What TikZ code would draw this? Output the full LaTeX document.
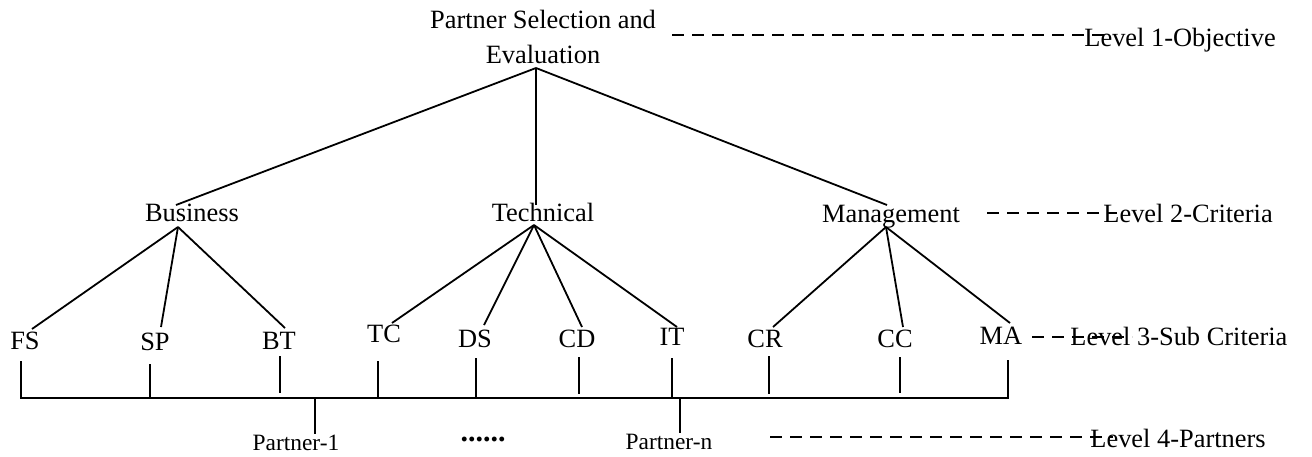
\documentclass[tikz,border=0pt]{standalone}
\usepackage{fontspec}
\setmainfont{Liberation Serif}
\begin{document}
\begin{tikzpicture}[x=0.5pt,y=-0.5pt,
  lbl/.style={inner sep=0pt,anchor=base,font=\fontsize{13.2}{15}\selectfont},
  small/.style={inner sep=0pt,anchor=base,font=\fontsize{11.7}{13}\selectfont},
  lvl/.style={inner sep=0pt,anchor=base west,font=\fontsize{13.2}{15}\selectfont},
  edge/.style={line width=0.9pt},
  guide/.style={line width=1pt,dash pattern=on 6pt off 4pt}]
\useasboundingbox (0,0) rectangle (1312,456);

% guide lines (drawn first, text sits on top)
\coordinate (g1s) at (672,35);  \coordinate (g1e) at (1112,35);
\coordinate (g2s) at (987,213); \coordinate (g2e) at (1117,213);
\coordinate (g3s) at (1032,337);\coordinate (g3e) at (1132,337);
\coordinate (g4s) at (770,437); \coordinate (g4e) at (1113,437);
\draw[guide] (g1s) -- (g1e);
\draw[guide] (g2s) -- (g2e);
\draw[guide] (g3s) -- (g3e);
\draw[guide] (g4s) -- (g4e);

% level 1 objective
\node[lbl] (obj1) at (543,28) {Partner Selection and};
\node[lbl] (obj2) at (543,63) {Evaluation};
\coordinate (apex) at (536,68);

% level 2 criteria
\node[lbl] (bus) at (192,221) {Business};
\node[lbl] (tec) at (543,221) {Technical};
\node[lbl] (man) at (891,222) {Management};
\coordinate (busT) at (176,205); \coordinate (busB) at (178,227);
\coordinate (tecT) at (536,205); \coordinate (tecB) at (534,225);
\coordinate (manT) at (887,205); \coordinate (manB) at (886,227);
\draw[edge] (apex) -- (busT);
\draw[edge] (apex) -- (tecT);
\draw[edge] (apex) -- (manT);

% level 3 sub criteria
\node[lbl] (fs) at (25,349)  {FS};
\node[lbl] (sp) at (155,350) {SP};
\node[lbl] (bt) at (279,349) {BT};
\node[lbl] (tc) at (384,342) {TC};
\node[lbl] (ds) at (475,347) {DS};
\node[lbl] (cd) at (577,347) {CD};
\node[lbl] (it) at (672,345) {IT};
\node[lbl] (cr) at (765,347) {CR};
\node[lbl] (cc) at (895,347) {CC};
\node[lbl] (ma) at (1001,344){MA};
\coordinate (fsT) at (32,329);  \coordinate (spT) at (161,327);
\coordinate (btT) at (285,328); \coordinate (tcT) at (392,323);
\coordinate (dsT) at (484,325); \coordinate (cdT) at (582,327);
\coordinate (itT) at (677,327); \coordinate (crT) at (773,327);
\coordinate (ccT) at (903,327); \coordinate (maT) at (1010,323);
\foreach \s in {fs,sp,bt} \draw[edge] (busB) -- (\s T);
\foreach \s in {tc,ds,cd,it} \draw[edge] (tecB) -- (\s T);
\foreach \s in {cr,cc,ma} \draw[edge] (manB) -- (\s T);

% level 4 partners: common bar and ticks
\coordinate (barL) at (21,398); \coordinate (barR) at (1008,398);
\draw[edge] (21,361) -- (barL) -- (barR) -- (1008,360);
\coordinate (fsB) at (21,361);   \coordinate (spB) at (150,364);
\coordinate (btB) at (280,356);  \coordinate (tcB) at (378,361);
\coordinate (dsB) at (476,358);  \coordinate (cdB) at (579,357);
\coordinate (itB) at (672,358);  \coordinate (crB) at (769,356);
\coordinate (ccB) at (900,357);
\draw[edge] (spB) -- (150,398);
\draw[edge] (btB) -- (280,393);
\draw[edge] (tcB) -- (378,398);
\draw[edge] (dsB) -- (476,398);
\draw[edge] (cdB) -- (579,394);
\draw[edge] (itB) -- (672,398);
\draw[edge] (crB) -- (769,394);
\draw[edge] (ccB) -- (900,393);

\node[small] (p1) at (296,450) {Partner-1};
\node[small] (pn) at (669,449) {Partner-n};
\node[inner sep=0pt,anchor=base,font=\fontsize{15}{16}\selectfont\bfseries] (dots) at (483,441) {......};
\coordinate (p1T) at (315,398); \coordinate (pnT) at (680,398);
\draw[edge] (p1T) -- (315,434);
\draw[edge] (pnT) -- (680,433);

% level captions
\node[lvl] (l1) at (1084,46)  {Level 1-Objective};
\node[lvl] (l2) at (1103,222) {Level 2-Criteria};
\node[lvl] (l3) at (1070,345) {Level 3-Sub Criteria};
\node[lvl] (l4) at (1090,447) {Level 4-Partners};
\end{tikzpicture}
\end{document}
